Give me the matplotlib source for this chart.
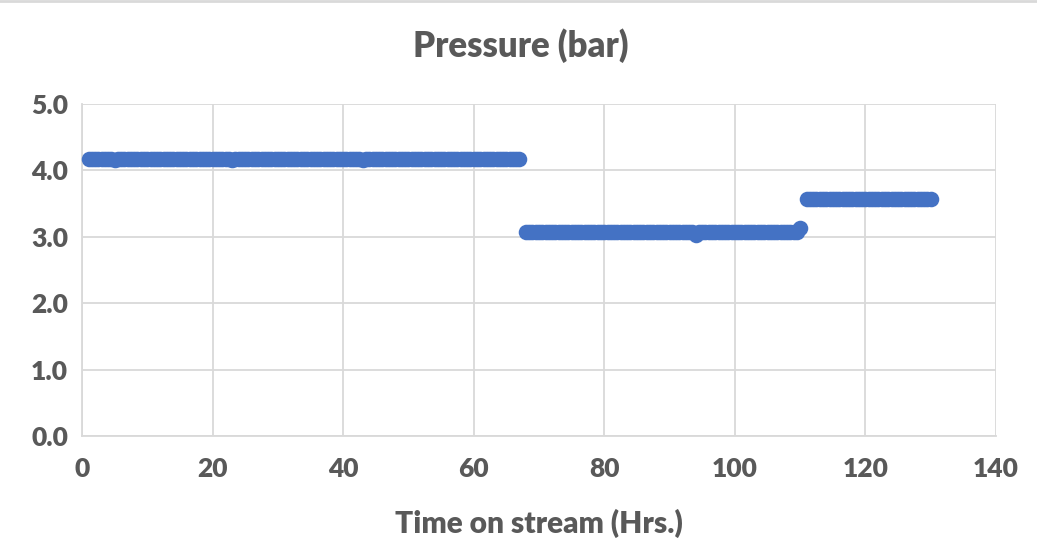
import matplotlib
matplotlib.use("Agg")
import matplotlib.pyplot as plt
import numpy as np
from matplotlib.lines import Line2D

# Readings logged every half hour over three operating periods
hours_run1 = np.arange(1.0, 67.01, 0.5)     # 1.0 .. 67.0 h
hours_run2 = np.arange(68.0, 110.01, 0.5)   # 68.0 .. 110.0 h
hours_run3 = np.arange(111.0, 130.01, 0.5)  # 111.0 .. 130.0 h

# Pressure readings (bar)
pressure_run1 = [
    4.17, 4.17, 4.17, 4.17, 4.17, 4.17, 4.17, 4.17, 4.15, 4.17,
    4.17, 4.17, 4.17, 4.17, 4.17, 4.17, 4.17, 4.17, 4.17, 4.17,
    4.17, 4.17, 4.17, 4.17, 4.17, 4.17, 4.17, 4.17, 4.17, 4.17,
    4.17, 4.17, 4.17, 4.17, 4.17, 4.17, 4.17, 4.17, 4.17, 4.17,
    4.17, 4.17, 4.17, 4.17, 4.15, 4.17, 4.17, 4.17, 4.17, 4.17,
    4.17, 4.17, 4.17, 4.17, 4.17, 4.17, 4.17, 4.17, 4.17, 4.17,
    4.17, 4.17, 4.17, 4.17, 4.17, 4.17, 4.17, 4.17, 4.17, 4.17,
    4.17, 4.17, 4.17, 4.17, 4.17, 4.17, 4.17, 4.17, 4.17, 4.17,
    4.17, 4.17, 4.17, 4.17, 4.15, 4.17, 4.17, 4.17, 4.17, 4.17,
    4.17, 4.17, 4.17, 4.17, 4.17, 4.17, 4.17, 4.17, 4.17, 4.17,
    4.17, 4.17, 4.17, 4.17, 4.17, 4.17, 4.17, 4.17, 4.17, 4.17,
    4.17, 4.17, 4.17, 4.17, 4.17, 4.17, 4.17, 4.17, 4.17, 4.17,
    4.17, 4.17, 4.17, 4.17, 4.17, 4.17, 4.17, 4.17, 4.17, 4.17,
    4.17, 4.17, 4.17,
]
pressure_run2 = [
    3.07, 3.07, 3.07, 3.07, 3.07, 3.07, 3.07, 3.07, 3.07, 3.07,
    3.07, 3.07, 3.07, 3.07, 3.07, 3.07, 3.07, 3.07, 3.07, 3.07,
    3.07, 3.07, 3.07, 3.07, 3.07, 3.07, 3.07, 3.07, 3.07, 3.07,
    3.07, 3.07, 3.07, 3.07, 3.07, 3.07, 3.07, 3.07, 3.07, 3.07,
    3.07, 3.07, 3.07, 3.07, 3.07, 3.07, 3.07, 3.07, 3.07, 3.07,
    3.07, 3.07, 3.02, 3.07, 3.07, 3.07, 3.07, 3.07, 3.07, 3.07,
    3.07, 3.07, 3.07, 3.07, 3.07, 3.07, 3.07, 3.07, 3.07, 3.07,
    3.07, 3.07, 3.07, 3.07, 3.07, 3.07, 3.07, 3.07, 3.07, 3.07,
    3.07, 3.07, 3.07, 3.07, 3.13,
]
pressure_run3 = [
    3.57, 3.57, 3.57, 3.57, 3.57, 3.57, 3.57, 3.57, 3.57, 3.57,
    3.57, 3.57, 3.57, 3.57, 3.57, 3.57, 3.57, 3.57, 3.57, 3.57,
    3.57, 3.57, 3.57, 3.57, 3.57, 3.57, 3.57, 3.57, 3.57, 3.57,
    3.57, 3.57, 3.57, 3.57, 3.57, 3.57, 3.57, 3.57, 3.57,
]

hours = np.concatenate([hours_run1, hours_run2, hours_run3])
pressure = pressure_run1 + pressure_run2 + pressure_run3

x_ticks = [0, 20, 40, 60, 80, 100, 120, 140]
y_ticks = [0.0, 1.0, 2.0, 3.0, 4.0, 5.0]

TEXT = "#595959"
GRID = "#d9d9d9"
BLUE = "#4472C4"
plt.rcParams["font.family"] = ["Lato", "DejaVu Sans"]

W, H = 1037, 549
fig = plt.figure(figsize=(W / 100, H / 100), dpi=100)
ax = fig.add_axes([82 / W, 1 - 436 / H, (996 - 82) / W, (436 - 104) / H])

ax.plot(hours, pressure, linestyle="none", marker="o", markersize=11.2,
        markerfacecolor=BLUE, markeredgewidth=0,
        zorder=3, clip_on=False)

ax.set_xlim(0, 140)
ax.set_ylim(0, 5)
ax.set_xticks(x_ticks)
ax.set_yticks(y_ticks)
ax.set_xticklabels([str(v) for v in x_ticks])
ax.set_yticklabels([f"{v:.1f}" for v in y_ticks])
ax.grid(True, color=GRID, linewidth=1.3)
ax.set_axisbelow(True)
ax.tick_params(length=0, labelsize=19, labelcolor=TEXT)
ax.tick_params(axis="y", pad=10)
ax.tick_params(axis="x", pad=15)
for lab in ax.get_xticklabels() + ax.get_yticklabels():
    lab.set_fontweight("heavy")
for side in ("top", "right"):
    ax.spines[side].set_visible(False)
for side in ("left", "bottom"):
    ax.spines[side].set_color(GRID)
    ax.spines[side].set_linewidth(1.3)

fig.text(521 / W, 1 - 46 / H, "Pressure (bar)", ha="center", va="center",
         fontsize=25, fontweight="heavy", color=TEXT)
fig.text(539 / W, 1 - 523 / H, "Time on stream (Hrs.)", ha="center", va="center",
         fontsize=21.5, fontweight="heavy", color=TEXT)

# thin frame line along the top edge
fig.add_artist(Line2D([0, 1], [1 - 1 / H, 1 - 1 / H], transform=fig.transFigure,
                      color=GRID, linewidth=2))

fig.savefig("out.png", dpi=100, facecolor="white")
